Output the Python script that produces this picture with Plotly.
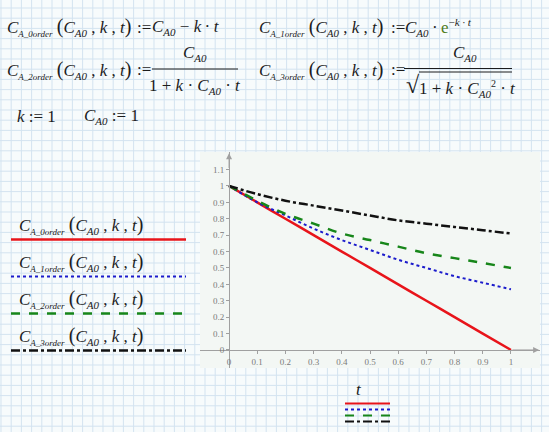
import plotly.graph_objects as go

W, H = 549, 432

# values (k = 1, C_A0 = 1)
t_vals = [0.0, 0.1, 0.2, 0.3, 0.4, 0.5, 0.6, 0.7, 0.8, 0.9, 1.0]
ca_0order = [1.00, 0.90, 0.80, 0.70, 0.60, 0.50, 0.40, 0.30, 0.20, 0.10, 0.00]
ca_1order = [1.00, 0.90, 0.82, 0.74, 0.67, 0.61, 0.55, 0.50, 0.45, 0.41, 0.37]
ca_2order = [1.00, 0.91, 0.83, 0.77, 0.71, 0.67, 0.63, 0.59, 0.56, 0.53, 0.50]
ca_3order = [1.00, 0.95, 0.91, 0.88, 0.85, 0.82, 0.79, 0.77, 0.75, 0.73, 0.71]

x_ticks = [0, 0.1, 0.2, 0.3, 0.4, 0.5, 0.6, 0.7, 0.8, 0.9, 1]
y_ticks = [0, 0.1, 0.2, 0.3, 0.4, 0.5, 0.6, 0.7, 0.8, 0.9, 1, 1.1]

series_names = ["A_0order", "A_1order", "A_2order", "A_3order"]
series_colors = ["#e8141a", "#1c1ccc", "#17861a", "#111111"]
series_dash = ["solid", "dot", "dash", "dashdot"]
series_width = [2.5, 2, 2.5, 2.5]

FONT = "Liberation Serif"
INK = "#1c1c1c"
THIN = "\u2009"


def px(x):
    return x / W


def py(y):
    return 1 - y / H


def C(sub, fs=11):
    return f"<i>C</i><sub><span style='font-size:{fs}px'><i>{sub}</i></span></sub>"


def big(s):
    return f"<span style='font-size:20px'>{s}</span>"


ARGS = big("(") + C("A0", 11) + " , <i>k</i> , <i>t</i>" + big(")")


def fname(sub):
    return C(sub, 9) + " " + ARGS


# plot area in pixels and axis ranges
x_dom = [px(200), px(540)]
y_dom = [py(368), py(152)]
x_rng = [-0.103, 1.103]
y_rng = [-0.11, 1.207]

fig = go.Figure()

for name, yv, col, dash, lw in zip(series_names, [ca_0order, ca_1order, ca_2order, ca_3order],
                                   series_colors, series_dash, series_width):
    fig.add_trace(go.Scatter(x=t_vals, y=yv, mode="lines", name=name,
                             line=dict(color=col, dash=dash, width=lw, shape="spline"),
                             showlegend=False, hoverinfo="skip"))

# notebook grid paper
step = 10.2
path = ""
gx = 1.0
while gx < W:
    path += f"M{px(gx):.5f},0 L{px(gx):.5f},1 "
    gx += step
gy = 8.0 - step
while gy < H:
    if gy > 0:
        path += f"M0,{py(gy):.5f} L1,{py(gy):.5f} "
    gy += step
shapes = [
    dict(type="path", path=path, xref="paper", yref="paper", layer="below",
         line=dict(color="#d3e3f0", width=1)),
    dict(type="rect", xref="paper", yref="paper", layer="below",
         x0=x_dom[0], x1=x_dom[1], y0=y_dom[0], y1=y_dom[1],
         fillcolor="#f3f7f4", line=dict(width=0)),
]

ann = []


def text(x, y, s, size=17, anchor="left", color=INK):
    ann.append(dict(x=px(x), y=py(y), xref="paper", yref="paper", text=s,
                    showarrow=False, xanchor=anchor, yanchor="middle",
                    font=dict(family=FONT, size=size, color=color)))


def hline(x0, x1, y, color=INK, width=1.2, dash="solid"):
    shapes.append(dict(type="line", xref="paper", yref="paper",
                       x0=px(x0), x1=px(x1), y0=py(y), y1=py(y),
                       line=dict(color=color, width=width, dash=dash)))


# definitions
text(5, 27, fname("A_0order"))
text(135, 27, ":=")
text(150, 27, C("A0", 11) + " − <i>k</i>" + THIN + "·" + THIN + "<i>t</i>")

text(257, 27, fname("A_1order"))
text(389, 27, ":=")
text(403, 27, C("A0", 11) + THIN + "·" + THIN + "<span style='color:#4d7a1a'>e</span>"
     + "<sup><span style='font-size:11px'>−<i>k</i>" + THIN + "·" + THIN
     + "<i>t</i></span></sup>")

text(5, 70, fname("A_2order"))
text(135, 70, ":=")
text(195, 53, C("A0", 11), anchor="center")
hline(152, 238, 69)
text(195, 86, "1 + <i>k</i> · " + C("A0", 11) + " · <i>t</i>", anchor="center")

text(257, 70, fname("A_3order"))
text(389, 70, ":=")
text(465, 53, C("A0", 11), anchor="center")
hline(404, 512, 68.5)
text(413, 85, "√", size=24, anchor="center")
hline(419, 512, 72)
text(467, 89, "1 + <i>k</i> · " + C("A0", 11)
     + "<sup><span style='font-size:10px'>2</span></sup> · <i>t</i>", anchor="center")

text(15, 116, "<i>k</i> := 1")
text(82, 116, C("A0", 11) + " := 1")

# labels with line samples on the left
for i, name in enumerate(series_names):
    yl = 225 + 37 * i
    text(17, yl, fname(name))
    hline(11, 186, yl + 14.5, color=series_colors[i], width=series_width[i],
          dash=series_dash[i])

# axis variable and small line samples under the plot
text(354, 389, "<i>t</i>")
for i in range(4):
    hline(345, 390, 403.5 + 6 * i, color=series_colors[i], width=2, dash=series_dash[i])

# axis arrows
ann.append(dict(x=1.1, y=0, ax=1.0, ay=0, xref="x", yref="y", axref="x", ayref="y",
                text="", showarrow=True, arrowhead=2, arrowsize=1.2, arrowwidth=1,
                arrowcolor="#a0a0a0"))
ann.append(dict(x=0, y=1.2, ax=0, ay=1.1, xref="x", yref="y", axref="x", ayref="y",
                text="", showarrow=True, arrowhead=2, arrowsize=1.2, arrowwidth=1,
                arrowcolor="#a0a0a0"))

x_pos = y_dom[0] + (0 - y_rng[0]) / (y_rng[1] - y_rng[0]) * (y_dom[1] - y_dom[0])
y_pos = x_dom[0] + (0 - x_rng[0]) / (x_rng[1] - x_rng[0]) * (x_dom[1] - x_dom[0])

tick_font = dict(family=FONT, size=9, color="#7a7a7a")
fig.update_layout(
    width=W, height=H,
    margin=dict(l=0, r=0, t=0, b=0),
    paper_bgcolor="#f7fbfc",
    plot_bgcolor="rgba(0,0,0,0)",
    shapes=shapes,
    annotations=ann,
    xaxis=dict(domain=x_dom, range=x_rng, anchor="free", position=x_pos,
               tickvals=x_ticks, ticks="outside", ticklen=3, tickcolor="#a0a0a0",
               showline=True, linecolor="#a0a0a0", linewidth=1,
               showgrid=False, zeroline=False, tickfont=tick_font, fixedrange=True),
    yaxis=dict(domain=y_dom, range=y_rng, anchor="free", position=y_pos,
               tickvals=y_ticks, ticks="outside", ticklen=3, tickcolor="#a0a0a0",
               showline=True, linecolor="#a0a0a0", linewidth=1,
               showgrid=False, zeroline=False, tickfont=tick_font, fixedrange=True),
)

fig.write_html("out.html", config={"displayModeBar": False},
               post_script="document.body.style.margin='0';document.body.style.overflow='hidden';")
